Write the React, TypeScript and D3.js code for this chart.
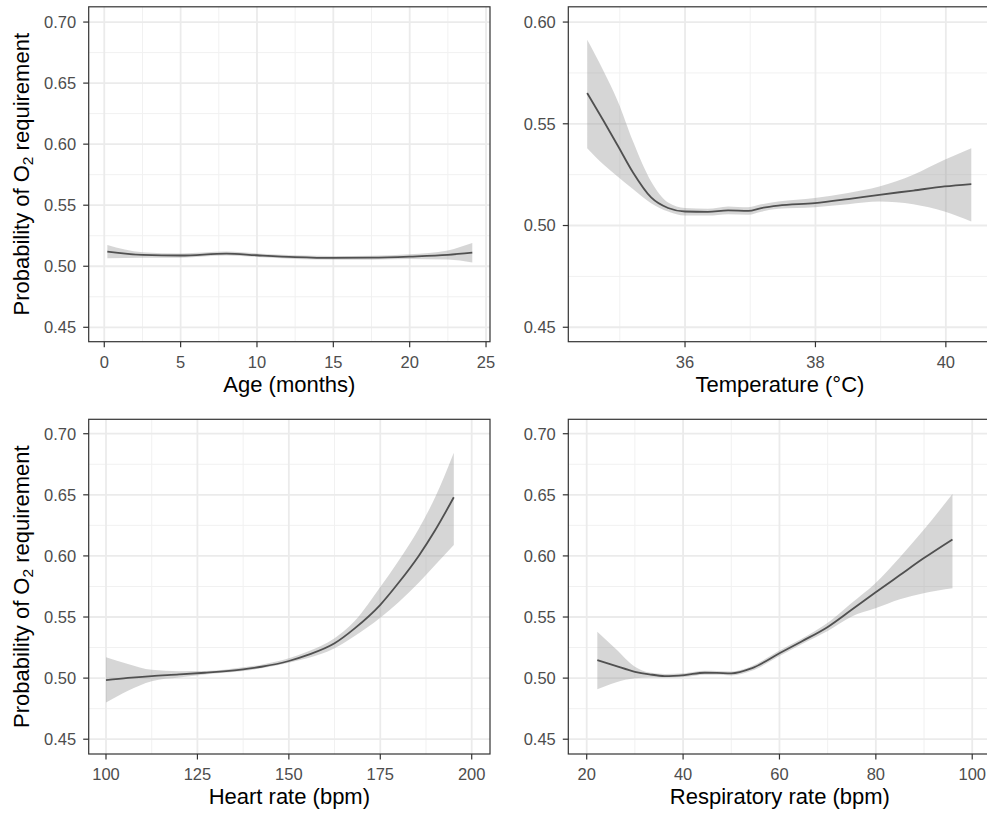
import React from 'react';
import * as d3 from 'd3';

// ---------- Data ----------
const ageX = [0.2, 2.5, 5, 8, 10, 12.5, 15, 17.5, 20, 22.5, 24.1];
const ageFit = [0.512, 0.5093, 0.5088, 0.5104, 0.509, 0.5075, 0.5068, 0.507, 0.5079, 0.5093, 0.5111];
const ageLower = [0.5065, 0.507, 0.507, 0.5088, 0.5075, 0.506, 0.5053, 0.5054, 0.506, 0.5055, 0.503];
const ageUpper = [0.5175, 0.5115, 0.5105, 0.512, 0.5105, 0.509, 0.5083, 0.5086, 0.5098, 0.513, 0.519];

const tempX = [34.5, 34.75, 34.97, 35.2, 35.48, 35.74, 36.0, 36.35, 36.66, 36.97, 37.17, 37.43, 37.99, 38.5, 38.98, 39.5, 39.98, 40.39];
const tempFit = [0.5651, 0.5515, 0.5392, 0.5262, 0.5138, 0.5086, 0.5069, 0.5067, 0.5074, 0.5072, 0.5086, 0.5098, 0.511, 0.513, 0.5151, 0.5172, 0.5192, 0.5204];
const tempLower = [0.538, 0.53, 0.524, 0.518, 0.511, 0.5069, 0.5049, 0.5049, 0.5056, 0.5053, 0.5068, 0.5082, 0.509, 0.5105, 0.5118, 0.5105, 0.5069, 0.502];
const tempUpper = [0.5913, 0.576, 0.561, 0.5415, 0.5216, 0.5113, 0.5086, 0.5082, 0.5094, 0.509, 0.5104, 0.5118, 0.5135, 0.516, 0.5192, 0.525, 0.5323, 0.538];

const hrX = [100, 106, 112.5, 120, 127, 137.5, 142.5, 150, 155, 162.5, 168, 175, 180, 185.5, 190, 195.1];
const hrFit = [0.4984, 0.5002, 0.5017, 0.503, 0.5044, 0.5072, 0.5093, 0.514, 0.5188, 0.5285, 0.5407, 0.56, 0.578, 0.6, 0.621, 0.648];
const hrLower = [0.48, 0.4897, 0.4975, 0.5005, 0.503, 0.5058, 0.508, 0.5126, 0.5162, 0.5244, 0.5345, 0.5495, 0.562, 0.578, 0.5925, 0.609];
const hrUpper = [0.517, 0.5116, 0.5068, 0.5057, 0.5058, 0.5088, 0.511, 0.5162, 0.5216, 0.5326, 0.5467, 0.5745, 0.596, 0.622, 0.648, 0.6845];

const rrX = [22.2, 26, 30, 33, 36.2, 40.3, 44.5, 47, 50, 54.2, 60, 64.5, 70.1, 74.9, 79.9, 85, 89.9, 95.9];
const rrFit = [0.5148, 0.51, 0.5052, 0.5031, 0.5017, 0.5025, 0.5044, 0.5043, 0.5039, 0.508, 0.5203, 0.5298, 0.5421, 0.5557, 0.57, 0.5843, 0.598, 0.6135];
const rrLower = [0.4908, 0.4965, 0.4998, 0.5005, 0.5003, 0.501, 0.5028, 0.5028, 0.5022, 0.506, 0.518, 0.5276, 0.5388, 0.5503, 0.5571, 0.5645, 0.5694, 0.5735];
const rrUpper = [0.538, 0.524, 0.5093, 0.5045, 0.5034, 0.504, 0.506, 0.5058, 0.5055, 0.5098, 0.5225, 0.532, 0.5455, 0.5612, 0.5776, 0.599, 0.6212, 0.6507];

const ageTicks = [0, 5, 10, 15, 20, 25];
const tempTicks = [36, 38, 40];
const hrTicks = [100, 125, 150, 175, 200];
const rrTicks = [20, 40, 60, 80, 100];
const yTicksWide = [0.45, 0.5, 0.55, 0.6, 0.65, 0.7];
const yTicksTemp = [0.45, 0.5, 0.55, 0.6];

const xTitles = ['Age (months)', 'Temperature (°C)', 'Heart rate (bpm)', 'Respiratory rate (bpm)'];

// ---------- Layout ----------
const W = 987;
const H = 814;
const FONT = '"Liberation Sans", Arial, Helvetica, sans-serif';
const LEFT = [88.7, 490];
const RIGHT = [568.3, 991.5];
const TOP = [6.8, 341.7];
const BOTTOM = [419.3, 754];

function minors(ticks: number[], domain: number[]) {
  const step = ticks[1] - ticks[0];
  const out: number[] = [];
  for (let i = -1; i <= ticks.length; i++) {
    const v = ticks[0] + step * i + step / 2;
    if (v > domain[0] && v < domain[1]) out.push(v);
  }
  return out;
}

type PanelProps = {
  xr: number[];
  yr: number[];
  xDomain: number[];
  yDomain: number[];
  xTicks: number[];
  yTicks: number[];
  xs: number[];
  fit: number[];
  lo: number[];
  hi: number[];
  xTitle: string;
  showYTitle: boolean;
  fmtX?: (v: number) => string;
};

function Panel(p: PanelProps) {
  const [x0, x1] = p.xr;
  const [y0, y1] = p.yr;
  const sx = d3.scaleLinear().domain(p.xDomain).range([x0, x1]);
  const sy = d3.scaleLinear().domain(p.yDomain).range([y1, y0]);
  const minorX = minors(p.xTicks, p.xDomain);
  const minorY = minors(p.yTicks, p.yDomain);
  const pts = p.xs.map((x, i) => ({ x, f: p.fit[i], l: p.lo[i], h: p.hi[i] }));
  const area = d3
    .area<any>()
    .x((d) => sx(d.x))
    .y0((d) => sy(d.l))
    .y1((d) => sy(d.h))
    .curve(d3.curveMonotoneX);
  const line = d3
    .line<any>()
    .x((d) => sx(d.x))
    .y((d) => sy(d.f))
    .curve(d3.curveMonotoneX);
  const fmtY = d3.format('.2f');
  const fmtX = p.fmtX || ((v: number) => String(v));
  const cy = (y0 + y1) / 2;
  const cx = (x0 + x1) / 2;
  return (
    <g>
      <rect x={x0} y={y0} width={x1 - x0} height={y1 - y0} fill="#FFFFFF" />
      {minorX.map((v) => (
        <line key={'mx' + v} x1={sx(v)} x2={sx(v)} y1={y0} y2={y1} stroke="#F1F1F1" strokeWidth={1} />
      ))}
      {minorY.map((v) => (
        <line key={'my' + v} x1={x0} x2={x1} y1={sy(v)} y2={sy(v)} stroke="#F1F1F1" strokeWidth={1} />
      ))}
      {p.xTicks.filter((v) => v >= p.xDomain[0] && v <= p.xDomain[1]).map((v) => (
        <line key={'gx' + v} x1={sx(v)} x2={sx(v)} y1={y0} y2={y1} stroke="#EBEBEB" strokeWidth={1.8} />
      ))}
      {p.yTicks.map((v) => (
        <line key={'gy' + v} x1={x0} x2={x1} y1={sy(v)} y2={sy(v)} stroke="#EBEBEB" strokeWidth={1.8} />
      ))}
      <path d={area(pts) || ''} fill="#999999" fillOpacity={0.4} stroke="none" />
      <path d={line(pts) || ''} fill="none" stroke="#505050" strokeWidth={1.8} />
      <rect x={x0} y={y0} width={x1 - x0} height={y1 - y0} fill="none" stroke="#333333" strokeWidth={1.2} />
      {p.xTicks.map((v) => (
        <g key={'tx' + v}>
          <line x1={sx(v)} x2={sx(v)} y1={y1} y2={y1 + 5.5} stroke="#333333" strokeWidth={1.2} />
          <text x={sx(v)} y={y1 + 26} textAnchor="middle" fontFamily={FONT} fontSize={16.5} fill="#4D4D4D">
            {fmtX(v)}
          </text>
        </g>
      ))}
      {p.yTicks.map((v) => (
        <g key={'ty' + v}>
          <line x1={x0 - 5.5} x2={x0} y1={sy(v)} y2={sy(v)} stroke="#333333" strokeWidth={1.2} />
          <text x={x0 - 12.5} y={sy(v) + 5.9} textAnchor="end" fontFamily={FONT} fontSize={16.5} fill="#4D4D4D">
            {fmtY(v)}
          </text>
        </g>
      ))}
      <text x={cx} y={y1 + 50} textAnchor="middle" fontFamily={FONT} fontSize={22} fill="#000000">
        {p.xTitle}
      </text>
      {p.showYTitle && (
        <text
          transform={`translate(28.5,${cy}) rotate(-90)`}
          textAnchor="middle"
          fontFamily={FONT}
          fontSize={22}
          fill="#000000"
        >
          Probability of O
          <tspan fontSize={15.5} dy={4.5}>2</tspan>
          <tspan dy={-4.5}> requirement</tspan>
        </text>
      )}
    </g>
  );
}

export default function App() {
  return (
    <div style={{ position: 'absolute', left: 0, top: 0, width: W, height: H, overflow: 'hidden' }}>
      <svg width={W} height={H} viewBox={`0 0 ${W} ${H}`} style={{ display: 'block', background: '#FFFFFF' }}>
        <rect x={0} y={0} width={W} height={H} fill="#FFFFFF" />
        <Panel
          xr={LEFT}
          yr={TOP}
          xDomain={[-1.02, 25.26]}
          yDomain={[0.4382, 0.7125]}
          xTicks={ageTicks}
          yTicks={yTicksWide}
          xs={ageX}
          fit={ageFit}
          lo={ageLower}
          hi={ageUpper}
          xTitle={xTitles[0]}
          showYTitle={true}
        />
        <Panel
          xr={RIGHT}
          yr={TOP}
          xDomain={[34.21, 40.7]}
          yDomain={[0.4429, 0.6075]}
          xTicks={tempTicks}
          yTicks={yTicksTemp}
          xs={tempX}
          fit={tempFit}
          lo={tempLower}
          hi={tempUpper}
          xTitle={xTitles[1]}
          showYTitle={false}
        />
        <Panel
          xr={LEFT}
          yr={BOTTOM}
          xDomain={[95.27, 205.0]}
          yDomain={[0.4379, 0.7118]}
          xTicks={hrTicks}
          yTicks={yTicksWide}
          xs={hrX}
          fit={hrFit}
          lo={hrLower}
          hi={hrUpper}
          xTitle={xTitles[2]}
          showYTitle={true}
        />
        <Panel
          xr={RIGHT}
          yr={BOTTOM}
          xDomain={[16.18, 104.0]}
          yDomain={[0.4379, 0.7118]}
          xTicks={rrTicks}
          yTicks={yTicksWide}
          xs={rrX}
          fit={rrFit}
          lo={rrLower}
          hi={rrUpper}
          xTitle={xTitles[3]}
          showYTitle={false}
        />
      </svg>
    </div>
  );
}
